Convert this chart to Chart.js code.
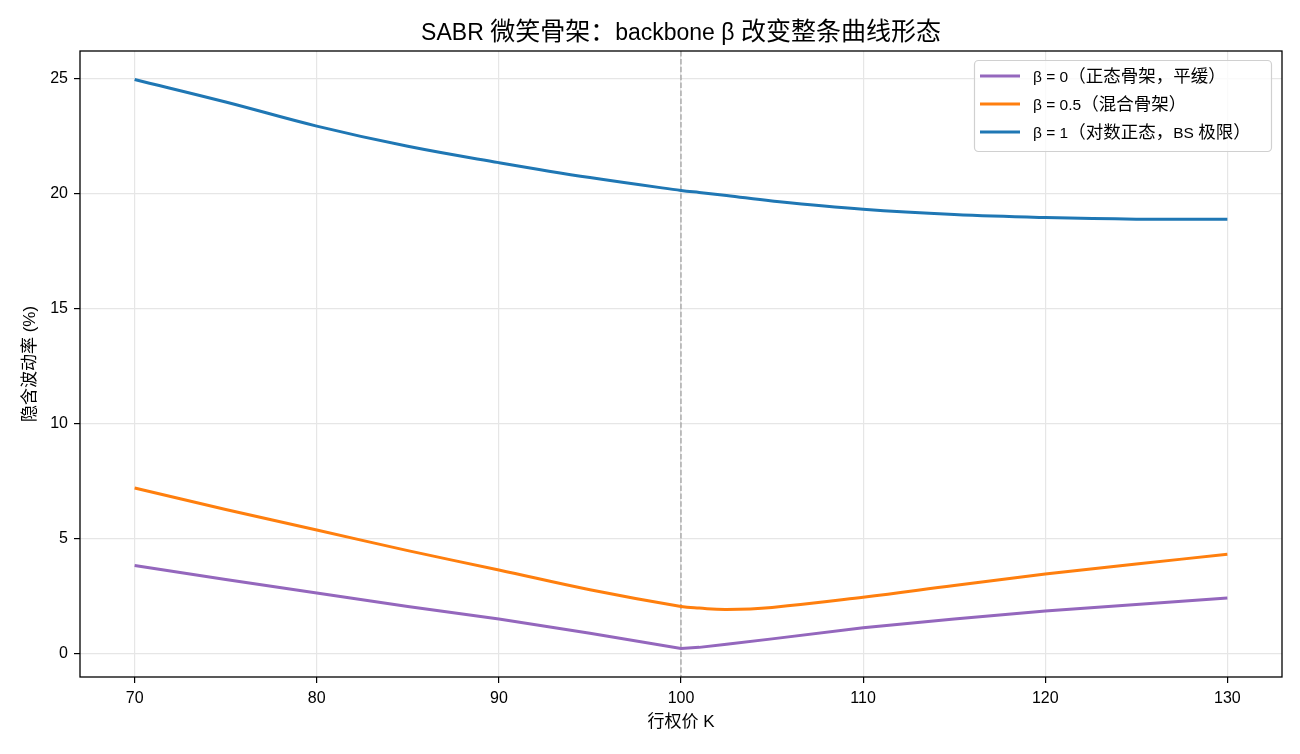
<!DOCTYPE html>
<html>
<head>
<meta charset="utf-8">
<script src="https://cdn.jsdelivr.net/npm/chart.js@4"></script>
<style>
  html, body { margin: 0; padding: 0; background: #fff; }
  #wrap { width: 1300px; height: 754px; }
</style>
</head>
<body>
<div id="wrap"><canvas id="smileChart" width="1300" height="754"></canvas></div>
<script>
// strikes and implied vols (%)
const strikes = [70, 75, 80, 85, 90, 95, 100, 101, 102.5, 105, 110, 115, 120, 125, 130];
const volBeta0 = [3.81, 3.20, 2.62, 2.03, 1.48, 0.86, 0.20, 0.25, 0.39, 0.62, 1.10, 1.48, 1.83, 2.12, 2.40];
const volBeta05 = [7.19, 6.25, 5.36, 4.46, 3.62, 2.76, 2.03, 1.96, 1.90, 1.99, 2.43, 2.94, 3.44, 3.88, 4.30];
const volBeta1 = [24.97, 23.99, 22.94, 22.06, 21.35, 20.70, 20.14, 20.05, 19.92, 19.68, 19.32, 19.09, 18.96, 18.89, 18.89];

const chartTitle = 'SABR 微笑骨架：backbone β 改变整条曲线形态';
const seriesLabels = ['β = 0（正态骨架，平缓）', 'β = 0.5（混合骨架）', 'β = 1（对数正态，BS 极限）'];
const xTicks = [70, 80, 90, 100, 110, 120, 130];
const yTicks = [0, 5, 10, 15, 20, 25];
const forwardK = 100;

const FONT = "'Liberation Sans', Arial, 'Noto Sans CJK SC', sans-serif";
const CJK_FONT = "'Noto Sans CJK SC', sans-serif";
const CJK_RE = /[\u3000-\u9fff\uff00-\uffef]/;

function toPoints(vals) {
    return strikes.map((k, i) => ({ x: k, y: vals[i] }));
}

// latin runs in one size, CJK runs (incl. full-width punctuation) a bit larger, same baseline
function drawMixed(ctx, text, x, baseline, latinSize, cjkSize, align) {
    const runs = text.split(/([\u3000-\u9fff\uff00-\uffef]+)/).filter(s => s.length);
    const fontFor = s => CJK_RE.test(s) ? cjkSize + 'px ' + CJK_FONT : latinSize + 'px ' + FONT;
    let total = 0;
    const widths = runs.map(r => { ctx.font = fontFor(r); const w = ctx.measureText(r).width; total += w; return w; });
    let cx = align === 'center' ? x - total / 2 : x;
    ctx.textAlign = 'left';
    ctx.textBaseline = 'alphabetic';
    runs.forEach((r, i) => {
        ctx.font = fontFor(r);
        ctx.fillText(r, cx, baseline);
        cx += widths[i];
    });
}

// üîπ dashed line at the forward, frame, title and legend box
const extrasPlugin = {
    id: 'extras',
    beforeDatasetsDraw(chart) {
        const { ctx, chartArea, scales } = chart;
        const x = scales.x.getPixelForValue(forwardK);
        ctx.save();
        ctx.strokeStyle = 'rgba(128,128,128,0.6)';
        ctx.lineWidth = 1.5;
        ctx.setLineDash([5.5, 2.4]);
        ctx.beginPath();
        ctx.moveTo(x, chartArea.top);
        ctx.lineTo(x, chartArea.bottom);
        ctx.stroke();
        ctx.restore();
    },
    afterDraw(chart) {
        const { ctx, chartArea } = chart;
        ctx.save();
        ctx.strokeStyle = '#000';
        ctx.lineWidth = 1.3;
        ctx.strokeRect(chartArea.left, chartArea.top,
            chartArea.right - chartArea.left, chartArea.bottom - chartArea.top);

        ctx.fillStyle = '#000';
        drawMixed(ctx, chartTitle, (chartArea.left + chartArea.right) / 2, 40, 23, 25, 'center');

        // legend box, upper right
        const boxW = 297, boxH = 91;
        const bx = chartArea.right - 11 - boxW, by = chartArea.top + 9;
        ctx.beginPath();
        ctx.roundRect(bx + 0.5, by + 0.5, boxW, boxH, 4);
        ctx.fillStyle = 'rgba(255,255,255,0.8)';
        ctx.fill();
        ctx.lineWidth = 1.2;
        ctx.strokeStyle = '#d0d0d0';
        ctx.stroke();

        chart.data.datasets.forEach((ds, i) => {
            const rowY = by + 16 + i * 28;
            ctx.strokeStyle = ds.borderColor;
            ctx.lineWidth = 3.2;
            ctx.beginPath();
            ctx.moveTo(bx + 6, rowY);
            ctx.lineTo(bx + 46, rowY);
            ctx.stroke();
            ctx.fillStyle = '#000';
            drawMixed(ctx, ds.label, bx + 59, rowY + 5.6, 15.5, 17.5, 'left');
        });
        ctx.restore();
    }
};

const ctx = document.getElementById('smileChart').getContext('2d');

new Chart(ctx, {
    type: 'line',
    data: {
        datasets: [
            { label: seriesLabels[0], data: toPoints(volBeta0), borderColor: '#9467bd', tension: 0 },
            { label: seriesLabels[1], data: toPoints(volBeta05), borderColor: '#ff7f0e', tension: 0.4 },
            { label: seriesLabels[2], data: toPoints(volBeta1), borderColor: '#1f77b4', tension: 0.4 }
        ].map(d => Object.assign(d, {
            borderWidth: 3,
            pointRadius: 0,
            fill: false
        }))
    },
    options: {
        responsive: false,
        animation: false,
        devicePixelRatio: 1,
        layout: { padding: { top: 51, left: 0, right: 18, bottom: 0 } },
        plugins: {
            legend: { display: false },
            tooltip: { enabled: false },
            title: { display: false }
        },
        scales: {
            x: {
                type: 'linear',
                min: 67,
                max: 133,
                afterBuildTicks: s => { s.ticks = xTicks.map(v => ({ value: v })); },
                afterFit: s => { s.height = 77; },
                grid: { color: '#e6e6e6', lineWidth: 1.2, drawTicks: true, tickLength: 6, tickColor: '#000', tickWidth: 1.2 },
                border: { display: false },
                ticks: { color: '#000', padding: 6.4, font: { family: FONT, size: 16 }, maxRotation: 0 },
                title: {
                    display: true,
                    text: '行权价 K',
                    color: '#000',
                    font: { family: FONT, size: 17 },
                    padding: { top: 0, bottom: 21.8 }
                }
            },
            y: {
                type: 'linear',
                min: -1.04,
                max: 26.21,
                afterBuildTicks: s => { s.ticks = yTicks.map(v => ({ value: v })); },
                afterFit: s => { s.width = 80; },
                grid: { color: '#e6e6e6', lineWidth: 1.2, drawTicks: true, tickLength: 6, tickColor: '#000', tickWidth: 1.2 },
                border: { display: false },
                ticks: { color: '#000', padding: 6, font: { family: FONT, size: 16 } },
                title: {
                    display: true,
                    text: '隐含波动率 (%)',
                    color: '#000',
                    font: { family: FONT, size: 17 },
                    padding: { top: 19.8, bottom: 0 }
                }
            }
        }
    },
    plugins: [extrasPlugin]
});
</script>
</body>
</html>
